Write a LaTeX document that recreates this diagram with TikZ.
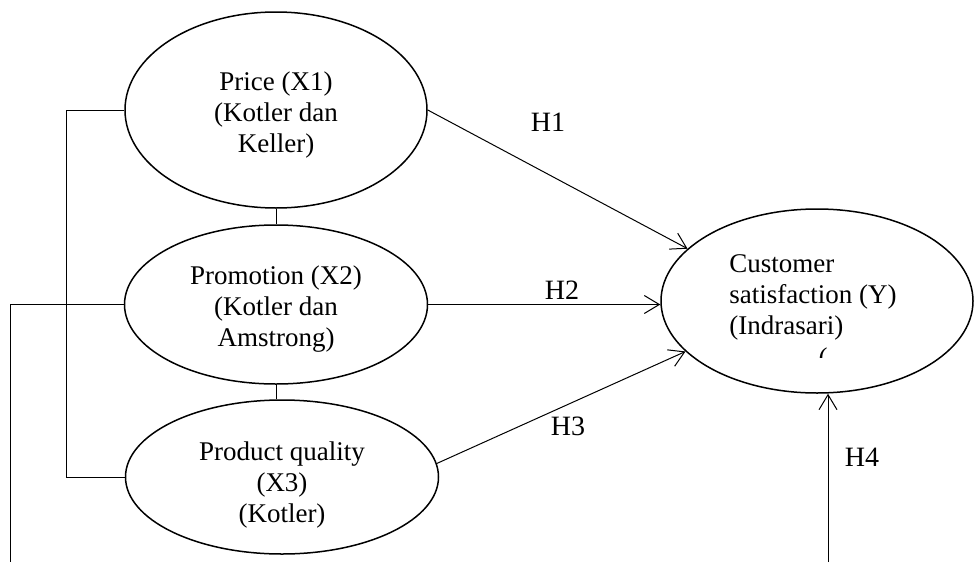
\documentclass[tikz,border=0pt]{standalone}
\usepackage{fontspec}
\setmainfont{Liberation Serif}
\usetikzlibrary{shapes.geometric,arrows.meta}
\begin{document}
\begin{tikzpicture}[>={Straight Barb[length=15pt,width=18pt]},x=1pt,y=-1pt,
	var/.style={ellipse,draw,line width=1.5pt,inner sep=0pt},
	vartext/.style={align=center,inner sep=0pt,font=\fontsize{27}{31}\selectfont},
	hyp/.style={font=\fontsize{28}{32}\selectfont},
	line width=1pt]
	\useasboundingbox (0,0) rectangle (974,562);
	\node[var,minimum width=302,minimum height=196,label={[vartext,yshift=-5]center:{Price (X1)\\(Kotler dan\\Keller)}}] (price) at (276,110) {};
	\node[var,minimum width=303,minimum height=159,label={[vartext,yshift=-5]center:{Promotion (X2)\\(Kotler dan\\Amstrong)}}] (promo) at (276,304.5) {};
	\node[var,minimum width=313,minimum height=154,label={[vartext,yshift=-8]center:{Product quality\\(X3)\\(Kotler)}}] (product) at (282,477) {};
	\node[var,minimum width=312,minimum height=184,label={[vartext,align=left,xshift=-4,yshift=4]center:{Customer\\satisfaction (Y)\\(Indrasari)}}] (cust) at (817,301) {};
	\begin{scope}
		\clip (815,346) rectangle (832,357);
		\node[anchor=base,inner sep=0pt,font=\fontsize{27}{31}\selectfont] (stray) at (823,366) {(};
	\end{scope}
	\coordinate (outL) at (10,562);
	\coordinate (outR) at (828,562);
	\draw (price.west) -- ++(-58,0) |- (product.west);
	\draw (price.south) -- (promo.north);
	\draw (promo.south) -- (promo.south |- product.north);
	\draw (promo.west) -| (outL);
	\draw[->] (price.east) -- (cust.158);
	\draw[->] (promo.east) -- (promo.east -| cust.west);
	\draw[->] (product.5) -- (cust.201);
	\draw[->] (outR) -- (outR |- cust.south);
	\node[hyp] (h1) at (548,122) {H1};
	\node[hyp] (h2) at (562,290) {H2};
	\node[hyp] (h3) at (568,426) {H3};
	\node[hyp] (h4) at (862,457) {H4};
\end{tikzpicture}
\end{document}
